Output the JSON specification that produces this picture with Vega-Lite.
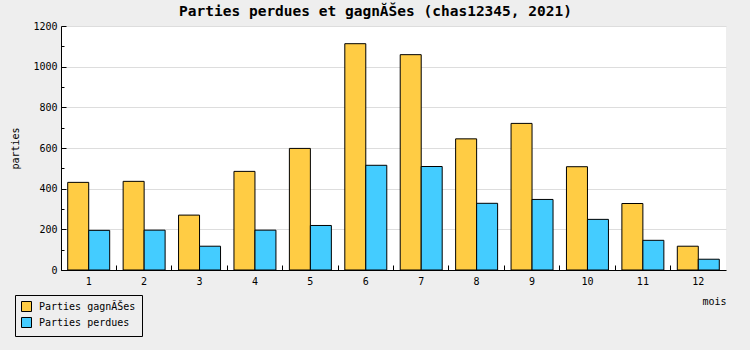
{
  "$schema": "https://vega.github.io/schema/vega-lite/v6.json",
  "autosize": {"type": "none"},
  "width": 665,
  "height": 244,
  "padding": {"left": 61, "top": 26, "right": 24, "bottom": 80},
  "background": "#eeeeee",
  "title": {
    "text": "Parties perdues et gagnĂŠes (chas12345, 2021)",
    "font": "DejaVu Sans Mono",
    "fontSize": 14.5,
    "fontWeight": "bold",
    "color": "black",
    "anchor": "middle",
    "dx": -18,
    "dy": 13,
    "offset": 4,
    "baseline": "alphabetic"
  },
  "config": {
    "view": {"fill": "white", "stroke": null},
    "font": "DejaVu Sans Mono"
  },
  "data": {
    "values": [
      {"mois": 1, "serie": "Parties gagnĂŠes", "parties": 431},
      {"mois": 2, "serie": "Parties gagnĂŠes", "parties": 436},
      {"mois": 3, "serie": "Parties gagnĂŠes", "parties": 270},
      {"mois": 4, "serie": "Parties gagnĂŠes", "parties": 485},
      {"mois": 5, "serie": "Parties gagnĂŠes", "parties": 598},
      {"mois": 6, "serie": "Parties gagnĂŠes", "parties": 1113},
      {"mois": 7, "serie": "Parties gagnĂŠes", "parties": 1059},
      {"mois": 8, "serie": "Parties gagnĂŠes", "parties": 645},
      {"mois": 9, "serie": "Parties gagnĂŠes", "parties": 721},
      {"mois": 10, "serie": "Parties gagnĂŠes", "parties": 508},
      {"mois": 11, "serie": "Parties gagnĂŠes", "parties": 327},
      {"mois": 12, "serie": "Parties gagnĂŠes", "parties": 117},
      {"mois": 1, "serie": "Parties perdues", "parties": 195},
      {"mois": 2, "serie": "Parties perdues", "parties": 196},
      {"mois": 3, "serie": "Parties perdues", "parties": 117},
      {"mois": 4, "serie": "Parties perdues", "parties": 196},
      {"mois": 5, "serie": "Parties perdues", "parties": 219},
      {"mois": 6, "serie": "Parties perdues", "parties": 515},
      {"mois": 7, "serie": "Parties perdues", "parties": 509},
      {"mois": 8, "serie": "Parties perdues", "parties": 328},
      {"mois": 9, "serie": "Parties perdues", "parties": 347},
      {"mois": 10, "serie": "Parties perdues", "parties": 249},
      {"mois": 11, "serie": "Parties perdues", "parties": 146},
      {"mois": 12, "serie": "Parties perdues", "parties": 53}
    ]
  },
  "mark": {"type": "bar", "stroke": "black", "strokeWidth": 1},
  "encoding": {
    "x": {
      "field": "mois",
      "type": "ordinal",
      "scale": {"paddingInner": 0, "paddingOuter": 0},
      "axis": {
        "title": "mois",
        "titleFont": "DejaVu Sans Mono",
        "titleFontSize": 10,
        "titleFontWeight": "normal",
        "titleColor": "black",
        "titleX": 665,
        "titleY": 31,
        "titleAlign": "right",
        "titleBaseline": "middle",
        "labelAngle": 0,
        "labelFont": "DejaVu Sans Mono",
        "labelFontSize": 10,
        "labelColor": "black",
        "labelBaseline": "top",
        "domainColor": "black",
        "tickColor": "black",
        "tickSize": -5,
        "bandPosition": 0,
        "labelPadding": 11,
        "grid": false
      }
    },
    "xOffset": {
      "field": "serie",
      "sort": ["Parties gagnĂŠes", "Parties perdues"],
      "scale": {"paddingOuter": 0.32, "paddingInner": 0}
    },
    "y": {
      "field": "parties",
      "type": "quantitative",
      "scale": {"domain": [0, 1200], "nice": false},
      "axis": {
        "title": "parties",
        "titleFont": "DejaVu Sans Mono",
        "titleFontSize": 10,
        "titleFontWeight": "normal",
        "titleColor": "black",
        "titleX": -46,
        "titleY": 122,
        "titleAngle": -90,
        "titleAlign": "center",
        "titleBaseline": "middle",
        "values": [0, 100, 200, 300, 400, 500, 600, 700, 800, 900, 1000, 1100, 1200],
        "format": "d",
        "labelExpr": "datum.value % 200 === 0 ? datum.label : ''",
        "labelFont": "DejaVu Sans Mono",
        "labelFontSize": 10,
        "labelColor": "black",
        "labelPadding": 9,
        "domainColor": "black",
        "tickColor": "black",
        "tickSize": {"condition": {"test": "datum.value % 200 === 0", "value": -5}, "value": -3},
        "grid": true,
        "gridColor": "#dddddd",
        "gridOpacity": {"condition": {"test": "datum.value % 200 === 0", "value": 1}, "value": 0}
      }
    },
    "color": {
      "field": "serie",
      "type": "nominal",
      "scale": {"domain": ["Parties gagnĂŠes", "Parties perdues"], "range": ["#ffcc44", "#44ccff"]},
      "legend": {
        "orient": "none",
        "legendX": -46,
        "legendY": 269,
        "title": null,
        "fillColor": "#eeeeee",
        "strokeColor": "black",
        "padding": 6,
        "symbolType": "square",
        "symbolSize": 100,
        "symbolStrokeColor": "black",
        "symbolStrokeWidth": 1,
        "symbolOpacity": 1,
        "labelFont": "DejaVu Sans Mono",
        "labelFontSize": 10,
        "labelColor": "black",
        "labelOffset": 7,
        "rowPadding": 1
      }
    }
  }
}
